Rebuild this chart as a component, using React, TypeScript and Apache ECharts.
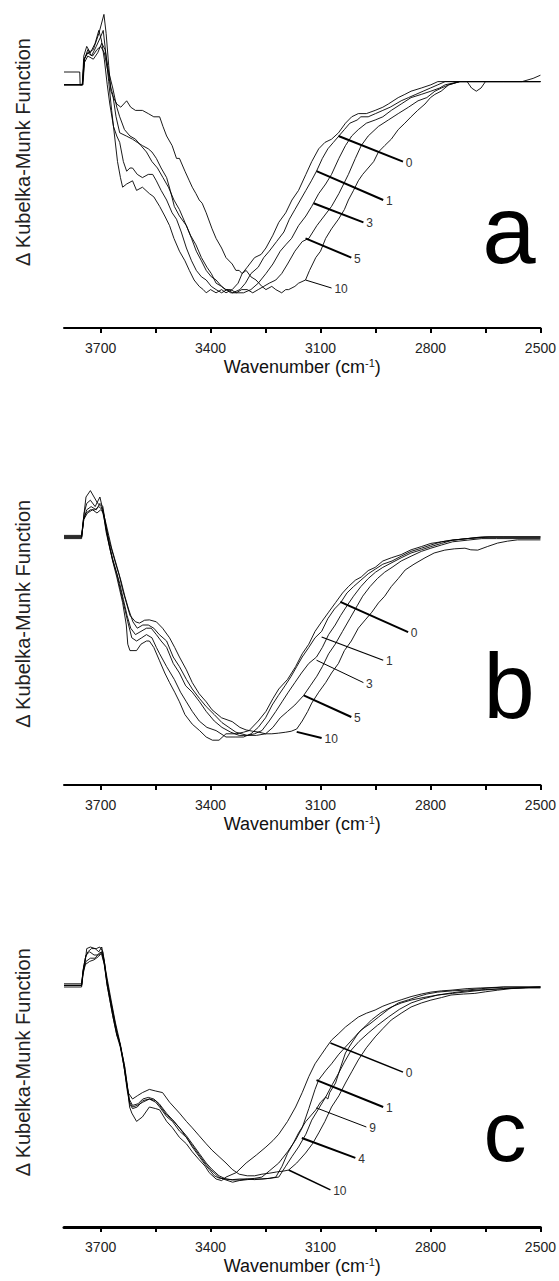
import React, { useEffect, useRef } from "react";
import * as echarts from "echarts";

type P = [number, number];

// Wavenumber ticks / labels (cm-1)
const tickValues = [3700, 3550, 3400, 3250, 3100, 2950, 2800, 2650, 2500];
const labelValues = [3700, 3400, 3100, 2800, 2500];
const xName = "Wavenumber (cm{sup|-1})";
const yName = "\u0394 Kubelka-Munk Function";
const panelLetters = ["a", "b", "c"];

// ---------- Panel a ----------
const labelsA = ["0", "1", "3", "5", "10"];
const a0: P[] = [[3800,0.80],[3757,0.80],[3756,0.76],[3748,0.76],[3744,0.84],[3735,0.87],[3725,0.85],[3712,0.88],[3700,0.91],[3693,0.93],[3686,0.86],[3678,0.77],[3670,0.68],[3662,0.60],[3654,0.52],[3646,0.47],[3640,0.44],[3629,0.45],[3613,0.46],[3602,0.43],[3586,0.44],[3567,0.42],[3555,0.41],[3539,0.38],[3525,0.35],[3512,0.32],[3500,0.28],[3485,0.24],[3470,0.21],[3458,0.18],[3445,0.15],[3431,0.13],[3420,0.12],[3412,0.11],[3400,0.12],[3385,0.11],[3370,0.12],[3358,0.11],[3341,0.12],[3325,0.14],[3314,0.17],[3300,0.19],[3280,0.22],[3262,0.23],[3249,0.25],[3230,0.29],[3214,0.33],[3195,0.36],[3178,0.40],[3160,0.43],[3140,0.48],[3124,0.52],[3105,0.56],[3088,0.58],[3070,0.59],[3051,0.61],[3032,0.64],[3015,0.66],[2997,0.67],[2975,0.67],[2951,0.68],[2930,0.69],[2915,0.70],[2888,0.72],[2870,0.73],[2853,0.74],[2825,0.75],[2799,0.76],[2780,0.77],[2740,0.77],[2700,0.77],[2650,0.77],[2600,0.77],[2550,0.77],[2500,0.77]];
const a1: P[] = [[3800,0.76],[3750,0.76],[3746,0.85],[3738,0.88],[3728,0.86],[3715,0.89],[3705,0.93],[3698,0.90],[3690,0.84],[3682,0.76],[3675,0.70],[3665,0.63],[3656,0.60],[3648,0.58],[3638,0.52],[3629,0.49],[3620,0.50],[3613,0.50],[3600,0.48],[3586,0.47],[3570,0.48],[3558,0.48],[3548,0.46],[3535,0.43],[3520,0.40],[3505,0.36],[3493,0.34],[3480,0.30],[3466,0.25],[3452,0.21],[3439,0.18],[3425,0.16],[3412,0.15],[3398,0.13],[3385,0.12],[3370,0.11],[3355,0.12],[3340,0.11],[3320,0.12],[3305,0.14],[3290,0.17],[3270,0.19],[3255,0.22],[3240,0.24],[3220,0.27],[3200,0.30],[3185,0.34],[3170,0.37],[3155,0.40],[3140,0.43],[3125,0.46],[3111,0.49],[3095,0.53],[3080,0.56],[3065,0.58],[3050,0.60],[3035,0.62],[3020,0.64],[3000,0.65],[2990,0.66],[2970,0.66],[2950,0.67],[2930,0.68],[2910,0.69],[2880,0.71],[2860,0.72],[2840,0.73],[2820,0.74],[2800,0.75],[2780,0.76],[2760,0.77],[2700,0.77],[2600,0.77],[2500,0.77]];
const a3: P[] = [[3800,0.76],[3750,0.76],[3745,0.84],[3736,0.86],[3722,0.85],[3710,0.87],[3700,0.88],[3690,0.86],[3680,0.80],[3672,0.75],[3667,0.73],[3658,0.66],[3648,0.61],[3630,0.60],[3613,0.59],[3600,0.58],[3586,0.57],[3570,0.56],[3560,0.55],[3548,0.53],[3535,0.50],[3520,0.47],[3510,0.43],[3499,0.38],[3485,0.35],[3466,0.32],[3452,0.28],[3439,0.24],[3425,0.21],[3412,0.18],[3398,0.16],[3385,0.15],[3370,0.13],[3358,0.12],[3345,0.11],[3330,0.11],[3310,0.11],[3290,0.12],[3270,0.14],[3249,0.17],[3230,0.20],[3210,0.24],[3195,0.26],[3179,0.28],[3160,0.32],[3140,0.35],[3124,0.38],[3105,0.42],[3086,0.45],[3070,0.48],[3050,0.53],[3032,0.57],[3015,0.60],[2997,0.62],[2975,0.64],[2951,0.65],[2930,0.66],[2907,0.68],[2880,0.70],[2853,0.72],[2825,0.73],[2799,0.74],[2775,0.75],[2760,0.76],[2720,0.77],[2650,0.77],[2600,0.77],[2500,0.77]];
const a5: P[] = [[3800,0.76],[3750,0.76],[3744,0.83],[3735,0.85],[3720,0.84],[3708,0.86],[3697,0.89],[3688,0.87],[3678,0.80],[3667,0.75],[3656,0.69],[3648,0.66],[3635,0.62],[3620,0.60],[3605,0.59],[3590,0.57],[3575,0.55],[3560,0.52],[3545,0.50],[3530,0.47],[3515,0.44],[3500,0.40],[3485,0.37],[3470,0.33],[3455,0.29],[3440,0.26],[3425,0.22],[3410,0.19],[3398,0.17],[3385,0.14],[3370,0.13],[3360,0.12],[3345,0.12],[3330,0.11],[3315,0.12],[3300,0.12],[3285,0.11],[3270,0.12],[3255,0.13],[3240,0.14],[3222,0.15],[3206,0.17],[3190,0.20],[3170,0.24],[3150,0.27],[3132,0.28],[3110,0.32],[3090,0.35],[3070,0.38],[3050,0.42],[3024,0.48],[3005,0.53],[2989,0.57],[2970,0.60],[2942,0.63],[2915,0.65],[2888,0.67],[2860,0.69],[2834,0.71],[2810,0.72],[2788,0.74],[2770,0.75],[2750,0.76],[2720,0.77],[2700,0.77],[2688,0.75],[2675,0.74],[2662,0.75],[2650,0.77],[2600,0.77],[2500,0.77]];
const a10: P[] = [[3800,0.76],[3750,0.76],[3745,0.84],[3735,0.86],[3720,0.87],[3705,0.92],[3691,0.98],[3685,0.92],[3678,0.82],[3672,0.74],[3665,0.72],[3656,0.70],[3645,0.69],[3629,0.71],[3618,0.69],[3605,0.68],[3586,0.68],[3570,0.67],[3555,0.66],[3539,0.66],[3530,0.63],[3520,0.60],[3505,0.57],[3493,0.53],[3485,0.53],[3470,0.49],[3458,0.46],[3450,0.44],[3440,0.42],[3431,0.40],[3423,0.39],[3412,0.36],[3396,0.31],[3385,0.28],[3370,0.25],[3358,0.22],[3341,0.20],[3331,0.18],[3322,0.18],[3314,0.17],[3303,0.18],[3290,0.16],[3276,0.15],[3260,0.13],[3249,0.12],[3233,0.13],[3222,0.12],[3206,0.11],[3195,0.12],[3187,0.12],[3170,0.13],[3160,0.14],[3141,0.15],[3130,0.18],[3113,0.22],[3100,0.24],[3086,0.28],[3070,0.31],[3051,0.34],[3035,0.37],[3024,0.40],[3010,0.43],[2997,0.46],[2985,0.48],[2970,0.50],[2955,0.52],[2942,0.55],[2925,0.57],[2907,0.59],[2888,0.62],[2870,0.64],[2853,0.66],[2835,0.68],[2815,0.70],[2800,0.72],[2788,0.73],[2771,0.74],[2750,0.76],[2720,0.77],[2650,0.77],[2600,0.77],[2550,0.77],[2520,0.78],[2500,0.79]];
const ptrFromA: P[] = [[3051,0.60],[3111,0.49],[3119,0.39],[3141,0.28],[3141,0.15]];
const ptrToA: P[] = [[2875,0.52],[2929,0.40],[2983,0.33],[3016,0.22],[3070,0.125]];

// ---------- Panel b ----------
const labelsB = ["0", "1", "3", "5", "10"];
const b0: P[] = [[3800,0.775],[3752,0.775],[3746,0.84],[3740,0.90],[3728,0.92],[3718,0.90],[3708,0.88],[3698,0.87],[3690,0.83],[3682,0.78],[3675,0.74],[3665,0.69],[3656,0.65],[3648,0.61],[3640,0.57],[3630,0.50],[3626,0.44],[3620,0.42],[3602,0.42],[3590,0.44],[3575,0.45],[3567,0.45],[3555,0.43],[3540,0.39],[3525,0.35],[3512,0.32],[3498,0.29],[3485,0.26],[3470,0.22],[3450,0.19],[3430,0.17],[3412,0.15],[3395,0.14],[3377,0.14],[3358,0.16],[3330,0.16],[3310,0.165],[3295,0.17],[3270,0.20],[3249,0.23],[3230,0.27],[3214,0.30],[3190,0.33],[3168,0.37],[3150,0.41],[3132,0.44],[3115,0.48],[3097,0.51],[3078,0.54],[3059,0.57],[3040,0.60],[3024,0.62],[3005,0.64],[2989,0.65],[2970,0.67],[2951,0.68],[2930,0.70],[2907,0.71],[2880,0.72],[2853,0.735],[2825,0.745],[2799,0.755],[2770,0.76],[2744,0.765],[2700,0.77],[2663,0.775],[2600,0.775],[2500,0.775]];
const b1: P[] = [[3800,0.77],[3752,0.77],[3745,0.85],[3738,0.88],[3728,0.89],[3715,0.87],[3702,0.90],[3694,0.86],[3685,0.79],[3677,0.75],[3667,0.70],[3656,0.66],[3646,0.61],[3636,0.56],[3626,0.51],[3615,0.46],[3602,0.45],[3588,0.46],[3575,0.47],[3560,0.46],[3548,0.43],[3539,0.41],[3520,0.37],[3499,0.33],[3482,0.29],[3466,0.26],[3450,0.23],[3431,0.20],[3410,0.18],[3385,0.17],[3358,0.15],[3331,0.15],[3310,0.15],[3290,0.16],[3270,0.18],[3250,0.21],[3232,0.25],[3215,0.28],[3197,0.31],[3180,0.34],[3165,0.37],[3150,0.40],[3132,0.43],[3115,0.46],[3097,0.48],[3080,0.52],[3062,0.55],[3045,0.57],[3028,0.60],[3010,0.62],[2990,0.64],[2970,0.66],[2950,0.675],[2930,0.69],[2905,0.70],[2880,0.715],[2853,0.73],[2825,0.74],[2799,0.75],[2770,0.76],[2740,0.765],[2700,0.77],[2650,0.775],[2500,0.775]];
const b3: P[] = [[3800,0.775],[3752,0.775],[3746,0.83],[3738,0.86],[3726,0.87],[3712,0.86],[3702,0.88],[3694,0.87],[3686,0.81],[3678,0.76],[3668,0.71],[3658,0.67],[3648,0.63],[3638,0.58],[3628,0.53],[3618,0.49],[3605,0.47],[3590,0.48],[3575,0.49],[3562,0.49],[3548,0.47],[3535,0.45],[3520,0.43],[3502,0.38],[3485,0.35],[3468,0.31],[3450,0.29],[3430,0.26],[3412,0.23],[3390,0.20],[3369,0.18],[3345,0.165],[3322,0.155],[3300,0.155],[3280,0.16],[3260,0.17],[3240,0.20],[3222,0.23],[3205,0.26],[3188,0.29],[3170,0.32],[3152,0.35],[3132,0.38],[3111,0.40],[3095,0.43],[3078,0.47],[3060,0.50],[3045,0.53],[3028,0.56],[3010,0.59],[2990,0.62],[2970,0.645],[2950,0.665],[2930,0.68],[2905,0.695],[2880,0.71],[2853,0.725],[2825,0.735],[2799,0.745],[2770,0.755],[2740,0.765],[2700,0.77],[2640,0.775],[2500,0.775]];
const b5: P[] = [[3800,0.775],[3752,0.775],[3746,0.83],[3736,0.85],[3722,0.86],[3710,0.85],[3700,0.86],[3692,0.85],[3684,0.80],[3676,0.76],[3666,0.72],[3656,0.68],[3645,0.64],[3634,0.59],[3624,0.55],[3612,0.51],[3600,0.49],[3585,0.50],[3570,0.50],[3555,0.49],[3540,0.47],[3520,0.45],[3502,0.40],[3485,0.37],[3466,0.33],[3450,0.30],[3430,0.27],[3412,0.245],[3390,0.22],[3369,0.195],[3350,0.18],[3331,0.165],[3300,0.155],[3275,0.155],[3250,0.16],[3230,0.18],[3210,0.21],[3190,0.23],[3170,0.25],[3146,0.28],[3128,0.31],[3110,0.34],[3095,0.37],[3078,0.41],[3060,0.44],[3040,0.48],[3020,0.52],[3000,0.56],[2985,0.59],[2965,0.62],[2945,0.645],[2925,0.665],[2905,0.68],[2880,0.70],[2853,0.715],[2825,0.73],[2799,0.74],[2770,0.75],[2740,0.76],[2700,0.765],[2660,0.77],[2620,0.77],[2500,0.77]];
const b10: P[] = [[3800,0.78],[3752,0.78],[3747,0.83],[3740,0.85],[3728,0.86],[3716,0.86],[3705,0.87],[3695,0.86],[3686,0.82],[3678,0.78],[3670,0.74],[3660,0.70],[3650,0.66],[3640,0.61],[3630,0.57],[3620,0.53],[3605,0.51],[3594,0.506],[3580,0.515],[3567,0.516],[3548,0.51],[3531,0.49],[3512,0.46],[3498,0.43],[3485,0.40],[3466,0.36],[3450,0.32],[3431,0.285],[3412,0.26],[3396,0.235],[3370,0.21],[3341,0.198],[3320,0.18],[3303,0.172],[3285,0.168],[3268,0.165],[3250,0.16],[3233,0.16],[3215,0.162],[3195,0.165],[3180,0.168],[3165,0.175],[3150,0.2],[3135,0.23],[3124,0.256],[3105,0.29],[3086,0.32],[3070,0.35],[3051,0.38],[3035,0.42],[3016,0.45],[2997,0.49],[2978,0.516],[2960,0.54],[2942,0.569],[2925,0.59],[2907,0.62],[2888,0.645],[2869,0.672],[2845,0.69],[2815,0.71],[2790,0.725],[2761,0.734],[2735,0.738],[2706,0.74],[2690,0.735],[2671,0.734],[2645,0.745],[2617,0.756],[2590,0.762],[2563,0.766],[2500,0.766]];
const ptrFromB: P[] = [[3046,0.572],[3097,0.4625],[3111,0.39],[3146,0.28],[3165,0.166]];
const ptrToB: P[] = [[2861,0.478],[2929,0.39],[2983,0.32],[3016,0.2125],[3097,0.147]];

// ---------- Panel c ----------
const labelsC = ["0", "1", "9", "4", "10"];
const c0: P[] = [[3800,0.755],[3752,0.755],[3748,0.80],[3742,0.83],[3738,0.87],[3728,0.875],[3715,0.87],[3705,0.86],[3697,0.875],[3690,0.83],[3683,0.76],[3675,0.71],[3667,0.66],[3656,0.60],[3648,0.575],[3634,0.50],[3626,0.43],[3621,0.375],[3615,0.356],[3602,0.33],[3586,0.344],[3567,0.375],[3550,0.37],[3539,0.366],[3520,0.33],[3504,0.31],[3485,0.28],[3466,0.26],[3450,0.235],[3431,0.21],[3415,0.19],[3404,0.17],[3385,0.15],[3370,0.145],[3358,0.156],[3330,0.17],[3303,0.20],[3275,0.225],[3249,0.25],[3230,0.27],[3214,0.29],[3190,0.33],[3168,0.375],[3150,0.42],[3132,0.47],[3115,0.51],[3097,0.54],[3085,0.56],[3070,0.584],[3050,0.605],[3032,0.625],[3015,0.64],[2997,0.656],[2975,0.668],[2951,0.678],[2930,0.69],[2907,0.70],[2880,0.71],[2853,0.72],[2825,0.728],[2799,0.734],[2770,0.738],[2744,0.74],[2700,0.745],[2663,0.747],[2600,0.75],[2500,0.75]];
const c1: P[] = [[3800,0.755],[3752,0.755],[3747,0.81],[3740,0.85],[3730,0.86],[3718,0.85],[3705,0.85],[3697,0.86],[3690,0.83],[3683,0.77],[3675,0.72],[3667,0.67],[3656,0.61],[3646,0.57],[3636,0.51],[3627,0.44],[3621,0.39],[3613,0.375],[3600,0.38],[3585,0.39],[3567,0.40],[3550,0.39],[3539,0.375],[3520,0.345],[3504,0.33],[3485,0.30],[3466,0.28],[3450,0.25],[3431,0.22],[3415,0.195],[3404,0.18],[3390,0.16],[3377,0.153],[3358,0.15],[3341,0.147],[3320,0.147],[3300,0.15],[3280,0.152],[3260,0.156],[3240,0.175],[3214,0.20],[3190,0.235],[3168,0.272],[3150,0.31],[3132,0.37],[3115,0.43],[3105,0.46],[3085,0.49],[3070,0.51],[3050,0.54],[3032,0.5625],[3010,0.59],[2989,0.616],[2965,0.635],[2942,0.656],[2915,0.68],[2888,0.70],[2860,0.71],[2834,0.72],[2810,0.728],[2780,0.734],[2740,0.738],[2706,0.74],[2660,0.745],[2600,0.75],[2500,0.75]];
const c9: P[] = [[3800,0.755],[3752,0.755],[3747,0.80],[3740,0.83],[3728,0.84],[3715,0.84],[3705,0.855],[3697,0.86],[3690,0.82],[3683,0.76],[3675,0.71],[3667,0.66],[3656,0.60],[3646,0.56],[3636,0.50],[3628,0.43],[3621,0.385],[3613,0.37],[3600,0.375],[3585,0.395],[3567,0.40],[3550,0.395],[3539,0.38],[3520,0.35],[3504,0.335],[3485,0.31],[3466,0.285],[3450,0.26],[3431,0.23],[3412,0.20],[3396,0.18],[3377,0.16],[3358,0.15],[3341,0.148],[3320,0.15],[3300,0.15],[3280,0.148],[3260,0.15],[3240,0.152],[3222,0.156],[3205,0.19],[3190,0.23],[3175,0.26],[3160,0.294],[3140,0.33],[3113,0.366],[3100,0.39],[3086,0.406],[3080,0.40],[3075,0.42],[3059,0.45],[3045,0.50],[3032,0.544],[3015,0.575],[2997,0.606],[2980,0.625],[2961,0.647],[2935,0.67],[2907,0.6875],[2880,0.70],[2853,0.709],[2820,0.717],[2780,0.725],[2740,0.73],[2700,0.735],[2660,0.74],[2600,0.745],[2500,0.75]];
const c4: P[] = [[3800,0.75],[3752,0.75],[3748,0.79],[3742,0.82],[3730,0.83],[3718,0.835],[3706,0.845],[3698,0.855],[3690,0.82],[3683,0.77],[3675,0.72],[3666,0.67],[3656,0.61],[3646,0.565],[3636,0.50],[3628,0.44],[3622,0.40],[3613,0.38],[3598,0.385],[3585,0.40],[3570,0.405],[3555,0.40],[3540,0.385],[3520,0.355],[3500,0.33],[3485,0.31],[3466,0.28],[3450,0.255],[3431,0.225],[3412,0.195],[3396,0.175],[3377,0.155],[3358,0.147],[3340,0.14],[3322,0.145],[3300,0.148],[3280,0.15],[3260,0.15],[3240,0.152],[3214,0.156],[3195,0.19],[3178,0.22],[3160,0.25],[3140,0.29],[3124,0.334],[3105,0.37],[3086,0.406],[3068,0.445],[3051,0.48],[3035,0.515],[3016,0.553],[2995,0.58],[2970,0.606],[2945,0.63],[2915,0.656],[2885,0.68],[2853,0.70],[2820,0.713],[2780,0.725],[2740,0.732],[2700,0.738],[2650,0.742],[2600,0.745],[2500,0.75]];
const c10: P[] = [[3800,0.76],[3752,0.76],[3748,0.80],[3742,0.84],[3735,0.86],[3725,0.87],[3712,0.87],[3702,0.875],[3694,0.86],[3686,0.80],[3678,0.75],[3670,0.70],[3660,0.64],[3650,0.59],[3640,0.53],[3632,0.47],[3625,0.42],[3613,0.40],[3600,0.41],[3586,0.42],[3567,0.43],[3550,0.425],[3531,0.42],[3512,0.39],[3485,0.356],[3466,0.33],[3450,0.31],[3431,0.285],[3412,0.26],[3396,0.24],[3377,0.22],[3358,0.20],[3341,0.18],[3322,0.165],[3300,0.16],[3280,0.16],[3260,0.165],[3240,0.168],[3220,0.172],[3200,0.175],[3187,0.178],[3165,0.20],[3141,0.231],[3122,0.26],[3105,0.294],[3088,0.33],[3070,0.375],[3050,0.41],[3032,0.45],[3015,0.485],[2997,0.522],[2975,0.56],[2951,0.594],[2930,0.62],[2907,0.647],[2880,0.668],[2853,0.6875],[2825,0.70],[2799,0.709],[2770,0.717],[2744,0.725],[2710,0.728],[2679,0.73],[2650,0.735],[2617,0.74],[2580,0.745],[2540,0.747],[2500,0.747]];
const ptrFromC: P[] = [[3073,0.575],[3111,0.459],[3111,0.372],[3151,0.278],[3187,0.178]];
const ptrToC: P[] = [[2875,0.484],[2929,0.375],[2975,0.3125],[3005,0.216],[3073,0.116]];

// ---------- layout / style (not data) ----------
const FONT = '"Liberation Sans", Arial, Helvetica, sans-serif';
const grids = [
  { top: 8, height: 288, yMin: 0.1, offset: 32, axisW: 2 },
  { top: 465, height: 297.6, yMin: 0.07, offset: 22.4, axisW: 2 },
  { top: 907, height: 310.4, yMin: 0.03, offset: 9.6, axisW: 3 },
];
const ptrWidths = [
  [2, 2, 2, 2, 1],
  [2, 1.2, 1, 2, 2],
  [1.6, 2, 1, 2, 1.6],
];
const letterStyle = [
  { x: 509, y: 229, size: 96 },
  { x: 509, y: 686, size: 92 },
  { x: 505, y: 1131, size: 86 },
];

const panels = [
  { curves: [a0, a1, a3, a5, a10], labels: labelsA, from: ptrFromA, to: ptrToA },
  { curves: [b0, b1, b3, b5, b10], labels: labelsB, from: ptrFromB, to: ptrToB },
  { curves: [c0, c1, c9, c4, c10], labels: labelsC, from: ptrFromC, to: ptrToC },
];

export default function App() {
  const ref = useRef<HTMLDivElement>(null);
  useEffect(() => {
    document.body.style.margin = "0";
    if (!ref.current) return;
    const chart = echarts.init(ref.current, undefined, { renderer: "svg" });

    const series: any[] = [];
    panels.forEach((p, i) => {
      p.curves.forEach((data, j) => {
        series.push({
          type: "line",
          xAxisIndex: i,
          yAxisIndex: i,
          data,
          symbol: "none",
          showSymbol: false,
          silent: true,
          lineStyle: { color: "#000", width: 0.9 },
          markLine: {
            silent: true,
            symbol: ["none", "none"],
            animation: false,
            lineStyle: { color: "#000", width: ptrWidths[i][j], type: "solid" },
            label: {
              show: true,
              position: "end",
              formatter: "{b}",
              fontSize: 12,
              color: "#333",
              fontFamily: FONT,
              distance: 3,
            },
            data: [[{ name: p.labels[j], coord: p.from[j] }, { coord: p.to[j] }]],
          },
        });
      });
    });

    const option: any = {
      animation: false,
      backgroundColor: "#fff",
      grid: grids.map((g) => ({ left: 64, width: 479, top: g.top, height: g.height })),
      xAxis: grids.map((g, i) => ({
        gridIndex: i,
        type: "value",
        min: 2500,
        max: 3800,
        inverse: true,
        offset: g.offset,
        axisLine: { show: true, lineStyle: { color: "#000", width: g.axisW } },
        axisTick: {
          show: true,
          customValues: tickValues,
          length: 5,
          lineStyle: { color: "#000", width: 2 },
        },
        axisLabel: {
          customValues: labelValues,
          formatter: (v: number) => String(v),
          fontSize: 14,
          color: "#222",
          margin: 13,
          fontFamily: FONT,
        },
        splitLine: { show: false },
        name: xName,
        nameLocation: "middle",
        nameGap: 29,
        nameTextStyle: {
          fontSize: 18,
          color: "#111",
          fontFamily: FONT,
          rich: { sup: { fontSize: 11, color: "#111", fontFamily: FONT, verticalAlign: "top", padding: [0, 0, 8, 0] } },
        },
      })),
      yAxis: grids.map((g, i) => ({
        gridIndex: i,
        type: "value",
        min: g.yMin,
        max: 1,
        axisLine: { show: false },
        axisTick: { show: false },
        axisLabel: { show: false },
        splitLine: { show: false },
        name: yName,
        nameLocation: "middle",
        nameRotate: 90,
        nameGap: 31,
        nameTextStyle: { fontSize: 20, color: "#222", fontFamily: FONT },
      })),
      graphic: panelLetters.map((t, i) => ({
        type: "text",
        x: letterStyle[i].x,
        y: letterStyle[i].y,
        silent: true,
        style: {
          text: t,
          fill: "#000",
          fontSize: letterStyle[i].size,
          fontFamily: FONT,
          textAlign: "center",
          align: "center",
          textVerticalAlign: "middle",
          verticalAlign: "middle",
        },
      })),
      series,
    };
    chart.setOption(option);
    return () => chart.dispose();
  }, []);
  return (
    <div
      ref={ref}
      style={{ position: "absolute", left: 0, top: 0, width: 559, height: 1281, background: "#fff" }}
    />
  );
}
